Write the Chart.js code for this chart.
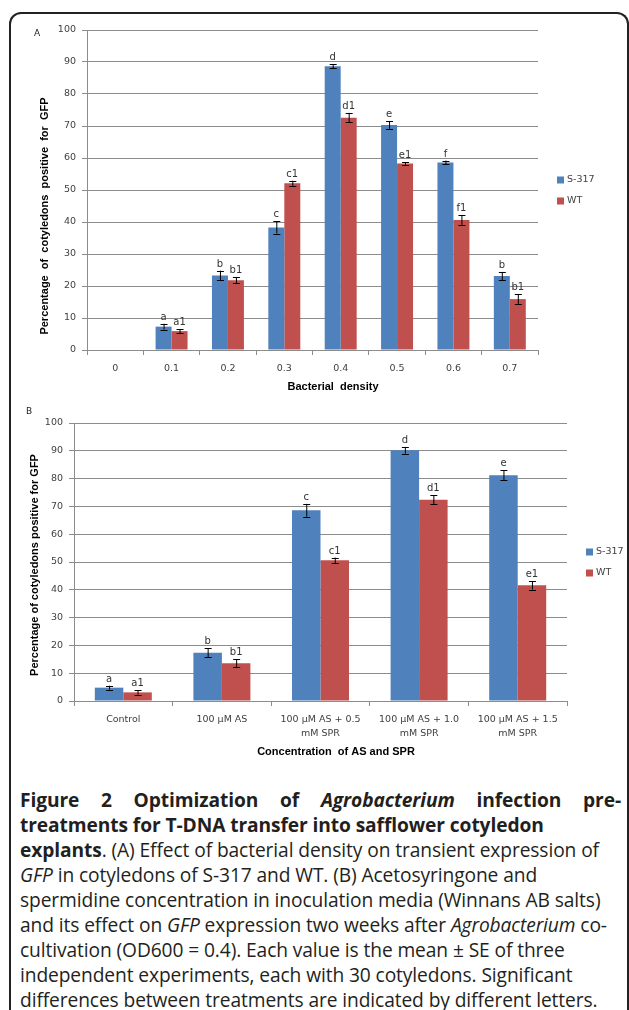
<!DOCTYPE html>
<html>
<head>
<meta charset="utf-8">
<script src="https://cdn.jsdelivr.net/npm/chart.js@4/dist/chart.umd.min.js"></script>
<style>
  body { margin: 0; width: 629px; height: 1010px; overflow: hidden; background: #fff; position: relative; }
  #frame { position: absolute; left: 9px; top: 12px; width: 620px; height: 1010px; box-sizing: border-box;
           border: 2px solid #222; border-bottom: none; border-radius: 12px 12px 0 0; }
  canvas { position: absolute; left: 0; }
  #chartA { top: 0; }
  #chartB { top: 395px; }
  #caption { position: absolute; left: 20px; top: 787px; width: 601px; font-family: "Open Sans", sans-serif;
             font-size: 19.2px; line-height: 25px; color: #231f20; letter-spacing: -0.1px; }
  #caption div { white-space: nowrap; }
  #caption .just { text-align: justify; text-align-last: justify; white-space: normal; }
  b { font-weight: 700; }
</style>
</head>
<body>
<div id="frame"></div>
<canvas id="chartA" width="629" height="395"></canvas>
<canvas id="chartB" width="629" height="375"></canvas>
<div id="caption">
  <div class="just"><b>Figure 2 Optimization of <i>Agrobacterium</i> infection pre-</b></div>
  <div><b>treatments for T-DNA transfer into safflower cotyledon</b></div>
  <div><b>explants</b>. (A) Effect of bacterial density on transient expression of</div>
  <div><i>GFP</i> in cotyledons of S-317 and WT. (B) Acetosyringone and</div>
  <div>spermidine concentration in inoculation media (Winnans AB salts)</div>
  <div>and its effect on <i>GFP</i> expression two weeks after <i>Agrobacterium</i> co-</div>
  <div>cultivation (OD600 = 0.4). Each value is the mean ± SE of three</div>
  <div>independent experiments, each with 30 cotyledons. Significant</div>
  <div>differences between treatments are indicated by different letters.</div>
</div>
<script>
// panel A: bacterial density
var densityLabels = ['0', '0.1', '0.2', '0.3', '0.4', '0.5', '0.6', '0.7'];
var densityS317 = [0, 7.3, 23.3, 38.3, 88.7, 70.3, 58.6, 23.1];
var densityS317Err = [0, 0.9, 1.5, 1.9, 0.6, 1.2, 0.6, 1.3];
var densityS317Letters = ['', 'a', 'b', 'c', 'd', 'e', 'f', 'b'];
var densityWT = [0, 5.9, 21.8, 52.1, 72.6, 58.3, 40.6, 15.9];
var densityWTErr = [0, 0.6, 1.0, 0.8, 1.5, 0.4, 1.5, 1.5];
var densityWTLetters = ['', 'a1', 'b1', 'c1', 'd1', 'e1', 'f1', 'b1'];

// panel B: AS and SPR concentration
var concLabels = ['Control', '100 µM AS', ['100 µM AS + 0.5', 'mM SPR'], ['100 µM AS + 1.0', 'mM SPR'], ['100 µM AS + 1.5', 'mM SPR']];
var concS317 = [4.8, 17.4, 68.6, 90.2, 81.2];
var concS317Err = [0.7, 1.6, 2.3, 1.2, 1.8];
var concS317Letters = ['a', 'b', 'c', 'd', 'e'];
var concWT = [3.1, 13.6, 50.6, 72.4, 41.6];
var concWTErr = [0.8, 1.5, 1.0, 1.6, 1.5];
var concWTLetters = ['a1', 'b1', 'c1', 'd1', 'e1'];

var yTicks = [0, 10, 20, 30, 40, 50, 60, 70, 80, 90, 100];
var seriesNames = ['S-317', 'WT'];

var BLUE = '#4f81bd', RED = '#c0504d', GRID = '#8c8c8c', TXT = '#404040';
var tickFont = { family: 'DejaVu Sans', size: 9.5 };

// error bars and letters above each bar
var errorBars = {
    id: 'errorBars',
    afterDatasetsDraw: function (chart) {
        var ctx = chart.ctx, y = chart.scales.y;
        ctx.save();
        chart.data.datasets.forEach(function (ds, i) {
            chart.getDatasetMeta(i).data.forEach(function (bar, j) {
                var v = ds.data[j], e = ds.errors[j];
                if (!v) return;
                var top = y.getPixelForValue(v + e), bot = y.getPixelForValue(v - e);
                ctx.strokeStyle = '#000';
                ctx.lineWidth = 1;
                ctx.beginPath();
                ctx.moveTo(bar.x + 0.5, top); ctx.lineTo(bar.x + 0.5, bot);
                ctx.moveTo(bar.x - 3, Math.round(top) + 0.5); ctx.lineTo(bar.x + 4, Math.round(top) + 0.5);
                ctx.moveTo(bar.x - 3, Math.round(bot) + 0.5); ctx.lineTo(bar.x + 4, Math.round(bot) + 0.5);
                ctx.stroke();
                ctx.fillStyle = '#333';
                ctx.font = '10px "DejaVu Sans"';
                ctx.textAlign = 'center';
                ctx.textBaseline = 'alphabetic';
                ctx.fillText(ds.letters[j], bar.x, top - 4);
            });
        });
        ctx.restore();
    }
};

// axis titles and legend, placed like the original figure
var extras = {
    id: 'extras',
    afterDraw: function (chart, args, opts) {
        var ctx = chart.ctx, area = chart.chartArea;
        ctx.save();
        ctx.fillStyle = '#000';
        ctx.font = 'bold 11px "Liberation Sans"';
        ctx.textAlign = 'center';
        ctx.textBaseline = 'middle';
        ctx.fillText(opts.xTitle, opts.xTitleX, opts.xTitleY);
        ctx.save();
        ctx.translate(opts.yTitleX, opts.yTitleY);
        ctx.rotate(-Math.PI / 2);
        ctx.fillText(opts.yTitle, 0, 0);
        ctx.restore();
        if (opts.panel) {
            ctx.font = '9px "DejaVu Sans"';
            ctx.fillStyle = '#222';
            ctx.textAlign = 'left';
            ctx.fillText(opts.panel, opts.panelX, opts.panelY);
        }
        ctx.font = '9.5px "DejaVu Sans"';
        ctx.textAlign = 'left';
        chart.data.datasets.forEach(function (ds, i) {
            var ly = opts.legendY + i * 21;
            ctx.fillStyle = ds.backgroundColor;
            ctx.fillRect(area.right + opts.legendDx, ly - 3.5, 7, 7);
            ctx.fillStyle = TXT;
            ctx.fillText(ds.label, area.right + opts.legendDx + 10, ly);
        });
        ctx.restore();
    }
};

function barChart(id, labels, s317, s317Err, s317Let, wt, wtErr, wtLet, pct, layout, xHeight, yWidth, extraOpts) {
    return new Chart(document.getElementById(id), {
        type: 'bar',
        data: {
            labels: labels,
            datasets: [
                { label: seriesNames[0], data: s317, errors: s317Err, letters: s317Let, backgroundColor: BLUE },
                { label: seriesNames[1], data: wt, errors: wtErr, letters: wtLet, backgroundColor: RED }
            ]
        },
        options: {
            responsive: false,
            animation: false,
            devicePixelRatio: 1,
            events: [],
            categoryPercentage: pct,
            barPercentage: 1,
            layout: { padding: layout },
            plugins: {
                legend: { display: false },
                tooltip: { enabled: false },
                extras: extraOpts
            },
            scales: {
                x: {
                    grid: { drawOnChartArea: false, color: GRID, tickLength: 5, offset: true },
                    border: { color: GRID },
                    ticks: { font: Object.assign({ lineHeight: 1.45 }, tickFont), color: TXT, padding: 7, maxRotation: 0, autoSkip: false },
                    afterFit: function (s) { s.height = xHeight; }
                },
                y: {
                    min: 0, max: 100,
                    afterBuildTicks: function (s) { s.ticks = yTicks.map(function (v) { return { value: v }; }); },
                    grid: { color: GRID, tickLength: 5 },
                    border: { color: GRID },
                    ticks: { font: tickFont, color: TXT, padding: 6 },
                    afterFit: function (s) { s.width = yWidth; }
                }
            }
        },
        plugins: [errorBars, extras]
    });
}

barChart('chartA', densityLabels, densityS317, densityS317Err, densityS317Letters,
    densityWT, densityWTErr, densityWTLetters, 0.567,
    { left: 0, right: 91, top: 30, bottom: 0 }, 45, 87,
    { xTitle: 'Bacterial  density', xTitleX: 333, xTitleY: 387,
      yTitle: 'Percentage  of  cotyledons  positive  for  GFP', yTitleX: 45, yTitleY: 216,
      panel: 'A', panelX: 34, panelY: 34, legendDx: 19, legendY: 180 });

barChart('chartB', concLabels, concS317, concS317Err, concS317Letters,
    concWT, concWTErr, concWTLetters, 0.578,
    { left: 0, right: 62, top: 28, bottom: 0 }, 69, 74,
    { xTitle: 'Concentration  of AS and SPR', xTitleX: 336, xTitleY: 357,
      yTitle: 'Percentage of cotyledons positive for GFP', yTitleX: 35, yTitleY: 170,
      panel: 'B', panelX: 26, panelY: 17, legendDx: 19, legendY: 157 });
</script>
</body>
</html>
